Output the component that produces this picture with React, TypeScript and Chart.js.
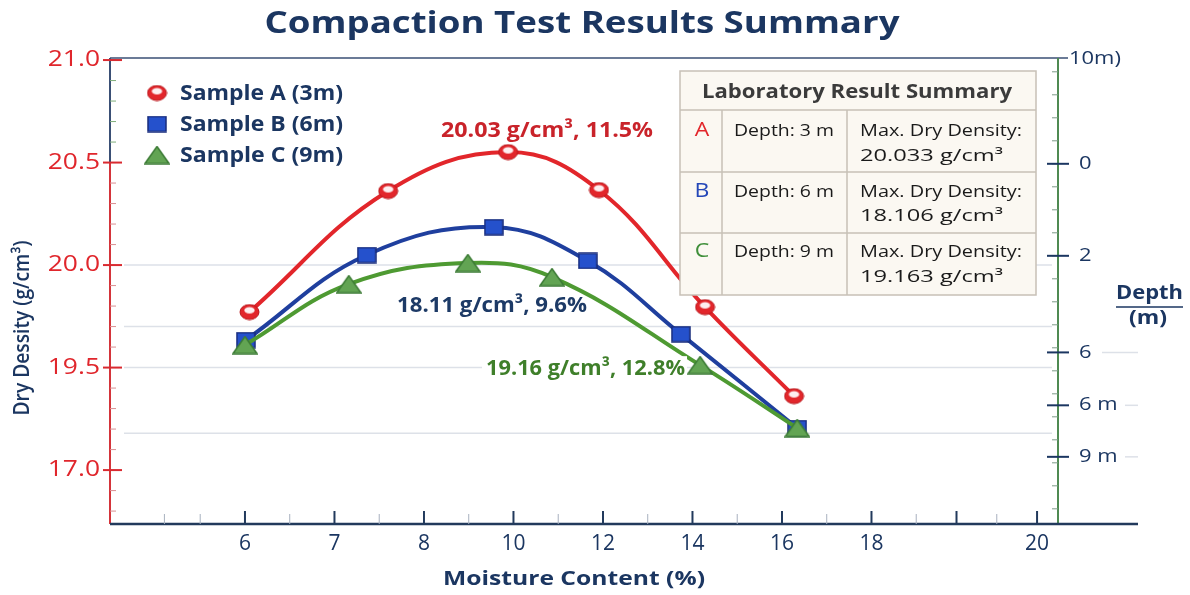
import React, { useEffect, useRef } from "react";
import { Chart, registerables } from "chart.js";

Chart.register(...registerables);

// ---------- data ----------
const chartTitle = "Compaction Test Results Summary";
const xAxisTitle = "Moisture Content (%)";
const yAxisTitle = "Dry Dessity (g/cm³)";
const depthTitle = ["Depth", "(m)"];

const xTickLabels = ["6", "7", "8", "10", "12", "14", "16", "18", "", "20"];
const xTickMoisture = [6, 7, 8, 10, 12, 14, 16, 18, 19, 20];
const xTickSlots = [0, 1, 2, 3, 4, 5, 6, 7, 7.95, 8.85];
const densityTickValues = [19.0, 19.5, 20.0, 20.5, 21.0];
const densityTickLabels = ["17.0", "19.5", "20.0", "20.5", "21.0"];
const depthTickValues = [-2.3, 0, 2, 4.1, 5.25, 6.37];
const depthTickLabels = ["10m)", "0", "2", "6", "6 m", "9 m"];

const seriesNames = ["Sample A (3m)", "Sample B (6m)", "Sample C (9m)"];
const sampleAMoisture = [6.05, 7.6, 9.88, 11.91, 14.28, 16.27];
const sampleADensity = [19.771, 20.361, 20.551, 20.366, 19.795, 19.361];
const sampleBMoisture = [6.01, 7.36, 9.56, 11.66, 13.74, 16.34];
const sampleBDensity = [19.634, 20.049, 20.185, 20.02, 19.663, 19.205];
const sampleCMoisture = [6.0, 7.16, 8.98, 10.86, 14.17, 16.34];
const sampleCDensity = [19.61, 19.907, 20.01, 19.941, 19.512, 19.205];

const peakLabels = ["20.03 g/cm³, 11.5%", "18.11 g/cm³, 9.6%", "19.16 g/cm³, 12.8%"];
const peakLabelMoisture = [10.75, 9.52, 11.61];
const peakLabelDensity = [20.624, 19.771, 19.463];

const tableHeader = "Laboratory Result Summary";
const tableLetters = ["A", "B", "C"];
const tableDepths = ["Depth: 3 m", "Depth: 6 m", "Depth: 9 m"];
const tableDensityCaption = "Max. Dry Density:";
const tableMaxDensity = ["20.033 g/cm³", "18.106 g/cm³", "19.163 g/cm³"];

// ---------- style ----------
const FONT = '"Open Sans", sans-serif';
const NAVY = "#1b3661";
const RED = "#e2262b";
const BLUE = "#1f3f9e";
const GREEN = "#4e9a32";
const gridDensity = [20.0, 19.7, 19.5, 19.18];

function moistureToAxis(m: number): number {
  const n = xTickMoisture.length;
  for (let i = 0; i < n - 1; i++) {
    const a = xTickMoisture[i];
    const b = xTickMoisture[i + 1];
    if (m <= b || i === n - 2) {
      return xTickSlots[i] + ((m - a) / (b - a)) * (xTickSlots[i + 1] - xTickSlots[i]);
    }
  }
  return 0;
}

const mk = (ms: number[], ds: number[]) =>
  ms.map((m, i) => ({ x: moistureToAxis(m), y: ds[i] }));

function line(ctx: CanvasRenderingContext2D, x1: number, y1: number, x2: number, y2: number) {
  ctx.beginPath();
  ctx.moveTo(x1, y1);
  ctx.lineTo(x2, y2);
  ctx.stroke();
}

type TOpts = { width?: number; sx?: number; base?: CanvasTextBaseline; align?: CanvasTextAlign };
function text(
  ctx: CanvasRenderingContext2D,
  s: string,
  x: number,
  y: number,
  size: number,
  weight: string,
  color: string,
  o: TOpts = {}
) {
  ctx.save();
  ctx.font = `${weight} ${size}px ${FONT}`;
  const w = ctx.measureText(s).width;
  const sx = o.width ? o.width / w : o.sx ?? 1;
  ctx.translate(x, y);
  ctx.scale(sx, 1);
  ctx.textAlign = o.align ?? "left";
  ctx.textBaseline = o.base ?? "alphabetic";
  ctx.fillStyle = color;
  ctx.fillText(s, 0, 0);
  ctx.restore();
}

function makeMarker(kind: string): HTMLCanvasElement {
  const c = document.createElement("canvas");
  const g = c.getContext("2d") as CanvasRenderingContext2D;
  if (kind === "ball") {
    c.width = 21;
    c.height = 17;
    g.beginPath();
    g.ellipse(10.5, 8.5, 9.5, 7.5, 0, 0, Math.PI * 2);
    g.fillStyle = RED;
    g.fill();
    g.strokeStyle = "#b8161b";
    g.lineWidth = 1;
    g.stroke();
    g.beginPath();
    g.ellipse(10.5, 6.8, 5.2, 3.2, 0, 0, Math.PI * 2);
    g.fillStyle = "rgba(255,255,255,0.93)";
    g.fill();
  } else if (kind === "square") {
    c.width = 20;
    c.height = 17;
    g.fillStyle = "#2551cc";
    g.fillRect(1, 1, 18, 15);
    g.strokeStyle = "#182c7c";
    g.lineWidth = 1.5;
    g.strokeRect(1, 1, 18, 15);
  } else {
    c.width = 26;
    c.height = 19;
    g.beginPath();
    g.moveTo(13, 1);
    g.lineTo(25, 18);
    g.lineTo(1, 18);
    g.closePath();
    g.fillStyle = "#62a453";
    g.fill();
    g.strokeStyle = "#3d7c36";
    g.lineWidth = 1.5;
    g.stroke();
  }
  return c;
}

const decor = {
  id: "decor",
  beforeDatasetsDraw(chart: any) {
    const { ctx, scales } = chart;
    const x = scales.x, y = scales.y, y2 = scales.y2;
    const L = x.left, R = x.right, T = y.top, B = y.bottom;
    ctx.save();
    // grid lines
    ctx.strokeStyle = "#dde1e8";
    ctx.lineWidth = 1.5;
    gridDensity.forEach((v) => {
      const py = y.getPixelForValue(v);
      line(ctx, L + 14, py, R - 6, py);
    });
    [4.1, 5.25, 6.37].forEach((v, i) => {
      const py = y2.getPixelForValue(v);
      line(ctx, i === 0 ? R + 44 : R + 67, py, R + 80, py);
    });

    // top frame line
    ctx.strokeStyle = "#3a4f75";
    ctx.lineWidth = 1.5;
    line(ctx, L, T, R + 10, T);

    // left axis line
    ctx.lineWidth = 2;
    line(ctx, L, T, L, y.getPixelForValue(20.5));
    ctx.strokeStyle = "#d4343a";
    line(ctx, L, y.getPixelForValue(20.5), L, B);
    ctx.lineWidth = 1;
    for (let v = 18.8; v <= 21.001; v += 0.1) {
      const py = y.getPixelForValue(v);
      ctx.strokeStyle = v > 20.5 ? "#7fae7a" : "#d98f92";
      line(ctx, L, py, L + 6, py);
    }
    ctx.lineWidth = 2;
    ctx.strokeStyle = "#d92a30";
    densityTickValues.forEach((v) => {
      const py = y.getPixelForValue(v);
      line(ctx, L - 7, py, L + 12, py);
    });

    // right depth axis
    ctx.strokeStyle = "#4f8a52";
    ctx.lineWidth = 2;
    line(ctx, R, T, R, B);
    ctx.lineWidth = 1;
    ctx.strokeStyle = "#7d9b86";
    for (let v = -2; v <= 7.6; v += 0.5) {
      const py = y2.getPixelForValue(v);
      line(ctx, R - 6, py, R, py);
    }
    ctx.lineWidth = 2;
    ctx.strokeStyle = NAVY;
    depthTickValues.forEach((v, i) => {
      const py = y2.getPixelForValue(v);
      if (i > 0) line(ctx, R - 11, py, R + 11, py);
    });

    // x axis
    ctx.strokeStyle = "#223a5c";
    ctx.lineWidth = 2.5;
    line(ctx, L, B, R + 80, B);
    ctx.lineWidth = 1;
    ctx.strokeStyle = "#a8b1bf";
    const minors = [-0.9, -0.5, 0.5, 1.5, 2.5, 3.5, 4.5, 5.5, 6.5, 7.5, 8.4];
    minors.forEach((v) => {
      const px = x.getPixelForValue(v);
      line(ctx, px, B, px, B - 10);
    });
    ctx.lineWidth = 2;
    ctx.strokeStyle = "#223a5c";
    xTickSlots.forEach((v) => {
      const px = x.getPixelForValue(v);
      line(ctx, px, B, px, B - 13);
    });
    ctx.restore();

    // tick labels
    densityTickValues.forEach((v, i) => {
      text(ctx, densityTickLabels[i], 100, y.getPixelForValue(v), 22, "400", "#e0262c", {
        align: "right",
        base: "middle",
        sx: 1.2,
      });
    });
    xTickSlots.forEach((v, i) => {
      text(ctx, xTickLabels[i], x.getPixelForValue(v), 550, 21, "400", NAVY, { align: "center" });
    });
    depthTickValues.forEach((v, i) => {
      const py = y2.getPixelForValue(v);
      text(ctx, depthTickLabels[i], i === 0 ? 1069 : 1079, i === 0 ? py + 1 : py, 18, "400", NAVY, {
        base: "middle",
        sx: 1.22,
      });
    });
  },
  afterDatasetsDraw(chart: any) {
    const { ctx, scales } = chart;
    const x = scales.x, y = scales.y;
    ctx.save();

    // peak annotations
    const annColors = ["#c9232a", "#1d3a66", "#3f7f2a"];
    const annWidths = [212, 190, 199];
    peakLabels.forEach((s, i) => {
      const px = x.getPixelForValue(moistureToAxis(peakLabelMoisture[i]));
      const py = y.getPixelForValue(peakLabelDensity[i]);
      if (i === 2) {
        ctx.fillStyle = "#ffffff";
        ctx.fillRect(px - annWidths[i] / 2 - 4, py - 19, annWidths[i] + 6, 25);
      }
      text(ctx, s, px, py, 22, "bold", annColors[i], { align: "center", width: annWidths[i] });
    });

    // legend
    const markers = chart.$markers as HTMLCanvasElement[];
    const ly = [93, 124, 155];
    markers.forEach((m, i) => {
      ctx.drawImage(m, 157 - m.width / 2, ly[i] - m.height / 2);
    });
    const lb = [100, 131, 162];
    seriesNames.forEach((s, i) => {
      text(ctx, s, 180, lb[i], 21, "bold", NAVY, { width: 163 });
    });

    // summary table
    const tx = 680, ty = 71, tw = 356, th = 224;
    const rowY = [110, 172, 233];
    ctx.fillStyle = "#fbf8f2";
    ctx.fillRect(tx, ty, tw, th);
    ctx.strokeStyle = "#c7c0b6";
    ctx.lineWidth = 1.5;
    ctx.strokeRect(tx, ty, tw, th);
    rowY.forEach((ry) => line(ctx, tx, ry, tx + tw, ry));
    line(ctx, 722, rowY[0], 722, ty + th);
    line(ctx, 847, rowY[0], 847, ty + th);
    text(ctx, tableHeader, 857, 98, 19, "bold", "#3b3b3b", { align: "center", width: 310 });
    const letterColors = [RED, "#2447b8", "#3f8f3a"];
    tableLetters.forEach((s, i) => {
      const b1 = 136 + 60.5 * i;
      const b2 = 160.5 + 60.7 * i;
      text(ctx, s, 702, b1, 20, "400", letterColors[i], { align: "center", sx: 1.15 });
      text(ctx, tableDepths[i], 734, b1, 16.5, "400", "#1a1a1a", { width: 100 });
      text(ctx, tableDensityCaption, 860, b1, 16.5, "400", "#1a1a1a", { width: 162 });
      text(ctx, tableMaxDensity[i], 860, b2, 16.5, "400", "#1a1a1a", { width: 143 });
    });

    // titles
    text(ctx, chartTitle, 582, 33, 30, "bold", NAVY, { align: "center", width: 635 });
    text(ctx, xAxisTitle, 574, 585, 20, "bold", NAVY, { align: "center", width: 262 });
    ctx.save();
    ctx.translate(23, 328);
    ctx.rotate(-Math.PI / 2);
    ctx.scale(1, 1.15);
    text(ctx, yAxisTitle, 0, 0, 19, "600", NAVY, { align: "center", base: "middle", width: 175 });
    ctx.restore();

    // depth title
    text(ctx, depthTitle[0], 1149.5, 299, 20, "bold", NAVY, { align: "center", width: 67 });
    ctx.strokeStyle = NAVY;
    ctx.lineWidth = 1.5;
    line(ctx, 1116, 307, 1183, 307);
    text(ctx, depthTitle[1], 1148, 324, 20, "bold", NAVY, { align: "center", width: 38 });
    ctx.restore();
  },
};

export default function App() {
  const ref = useRef<HTMLCanvasElement | null>(null);
  useEffect(() => {
    if (!ref.current) return;
    const markers = [makeMarker("ball"), makeMarker("square"), makeMarker("tri")];
    const chart: any = new Chart(ref.current, {
      type: "line",
      data: {
        datasets: [
          {
            label: seriesNames[0],
            data: mk(sampleAMoisture, sampleADensity),
            borderColor: RED,
            backgroundColor: RED,
            borderWidth: 4,
            tension: 0.4,
            pointStyle: markers[0] as any,
            pointRadius: 9,
            order: 0,
            yAxisID: "y",
          },
          {
            label: seriesNames[1],
            data: mk(sampleBMoisture, sampleBDensity),
            borderColor: BLUE,
            backgroundColor: "#2450c8",
            borderWidth: 4,
            tension: 0.4,
            pointStyle: markers[1] as any,
            pointRadius: 9,
            order: 2,
            yAxisID: "y",
          },
          {
            label: seriesNames[2],
            data: mk(sampleCMoisture, sampleCDensity),
            borderColor: GREEN,
            backgroundColor: "#62a453",
            borderWidth: 4,
            tension: 0.4,
            pointStyle: markers[2] as any,
            pointRadius: 10,
            order: 1,
            yAxisID: "y",
          },
        ],
      },
      options: {
        animation: false,
        responsive: false,
        layout: { padding: { top: 58, left: 0, right: 0, bottom: 0 } },
        plugins: { legend: { display: false }, tooltip: { enabled: false } },
        scales: {
          x: {
            type: "linear",
            min: -1.508,
            max: 9.084,
            grid: { display: false, drawTicks: false },
            border: { display: false },
            ticks: { display: false },
            afterFit: (s: any) => {
              s.height = 71;
            },
          },
          y: {
            type: "linear",
            position: "left",
            min: 18.737,
            max: 21.01,
            grid: { display: false, drawTicks: false },
            border: { display: false },
            ticks: { display: false },
            afterFit: (s: any) => {
              s.width = 110;
            },
          },
          y2: {
            type: "linear",
            position: "right",
            reverse: true,
            min: -2.3,
            max: 7.83,
            grid: { display: false, drawTicks: false },
            border: { display: false },
            ticks: { display: false },
            afterFit: (s: any) => {
              s.width = 132;
            },
          },
        },
      },
      plugins: [
        {
          id: "markerStore",
          beforeInit(c: any) {
            c.$markers = markers;
          },
        },
        decor,
      ],
    });
    return () => chart.destroy();
  }, []);

  return (
    <div style={{ position: "fixed", left: 0, top: 0, width: 1190, height: 595, background: "#ffffff" }}>
      <canvas ref={ref} width={1190} height={595} style={{ display: "block" }} />
    </div>
  );
}
